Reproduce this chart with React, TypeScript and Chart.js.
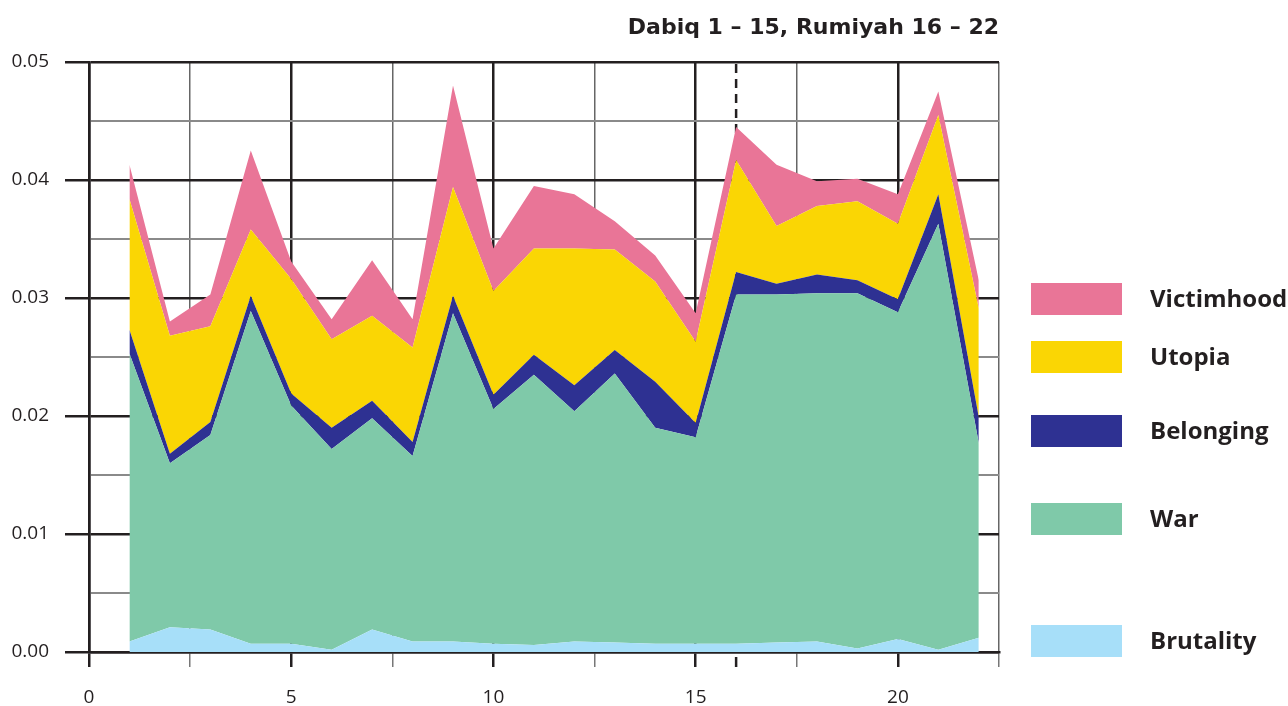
import React, { useEffect, useRef } from 'react';
import { Chart, registerables } from 'chart.js';

Chart.register(...registerables);

const issues = [1, 2, 3, 4, 5, 6, 7, 8, 9, 10, 11, 12, 13, 14, 15, 16, 17, 18, 19, 20, 21, 22];
const brutality = [0.0009, 0.0021, 0.0019, 0.0007, 0.0007, 0.0002, 0.0019, 0.0009, 0.0009, 0.0007, 0.0006, 0.0009, 0.0008, 0.0007, 0.0007, 0.0007, 0.0008, 0.0009, 0.0003, 0.0011, 0.0002, 0.0012];
const war = [0.0244, 0.0139, 0.0165, 0.0282, 0.0202, 0.0170, 0.0179, 0.0157, 0.0278, 0.0199, 0.0229, 0.0195, 0.0228, 0.0183, 0.0175, 0.0296, 0.0295, 0.0295, 0.0301, 0.0277, 0.0361, 0.0165];
const belonging = [0.0020, 0.0008, 0.0011, 0.0013, 0.0010, 0.0018, 0.0015, 0.0012, 0.0015, 0.0012, 0.0017, 0.0022, 0.0020, 0.0039, 0.0012, 0.0019, 0.0009, 0.0016, 0.0011, 0.0011, 0.0025, 0.0022];
const utopia = [0.0111, 0.0100, 0.0081, 0.0056, 0.0097, 0.0075, 0.0072, 0.0080, 0.0092, 0.0088, 0.0090, 0.0116, 0.0085, 0.0085, 0.0069, 0.0095, 0.0049, 0.0058, 0.0067, 0.0064, 0.0067, 0.0092];
const victimhood = [0.0029, 0.0012, 0.0027, 0.0067, 0.0015, 0.0017, 0.0047, 0.0024, 0.0086, 0.0036, 0.0053, 0.0046, 0.0024, 0.0022, 0.0024, 0.0028, 0.0052, 0.0021, 0.0019, 0.0025, 0.0020, 0.0024];

const seriesNames = ['Brutality', 'War', 'Belonging', 'Utopia', 'Victimhood'];
const seriesValues = [brutality, war, belonging, utopia, victimhood];
const seriesColors = ['#a7dff9', '#7fc9a9', '#2e3192', '#fad604', '#e97597'];

const titleText = 'Dabiq 1 – 15, Rumiyah 16 – 22';
const dividerIssue = 16;
const xMin = 0;
const xMax = 22.5;
const xStep = 2.5;
const yMin = 0;
const yMax = 0.05;
const yStep = 0.005;

const INK = '#231f20';

const legendOrder = ['Victimhood', 'Utopia', 'Belonging', 'War', 'Brutality'];
const legendTops = [283, 341, 415, 503, 625];

const overlayPlugin = {
  id: 'overlay',
  beforeDatasetsDraw(chart: any) {
    const { ctx, chartArea, scales } = chart;
    const px = scales.x.getPixelForValue(dividerIssue);
    ctx.save();
    ctx.strokeStyle = INK;
    ctx.lineWidth = 2.5;
    ctx.setLineDash([9, 6]);
    ctx.beginPath();
    ctx.moveTo(px, chartArea.top + 2);
    ctx.lineTo(px, chartArea.bottom);
    ctx.stroke();
    ctx.restore();
  },
  afterDraw(chart: any) {
    const { ctx, chartArea, scales } = chart;
    ctx.save();
    const px = scales.x.getPixelForValue(dividerIssue);
    ctx.strokeStyle = INK;
    ctx.lineWidth = 2.5;
    ctx.beginPath();
    ctx.moveTo(px, chartArea.bottom + 5);
    ctx.lineTo(px, chartArea.bottom + 15);
    ctx.stroke();

    ctx.fillStyle = INK;
    ctx.font = 'bold 22px "DejaVu Sans"';
    ctx.textAlign = 'right';
    ctx.textBaseline = 'middle';
    ctx.fillText(titleText, chartArea.right, 28);

    ctx.textAlign = 'left';
    ctx.font = 'bold 24px "Open Sans"';
    legendOrder.forEach((name, i) => {
      const idx = seriesNames.indexOf(name);
      const top = legendTops[i];
      ctx.fillStyle = seriesColors[idx];
      ctx.fillRect(1031, top, 91, 32);
      ctx.fillStyle = INK;
      ctx.fillText(name, 1150, top + 17);
    });
    ctx.restore();
  },
};

function isMultiple(v: number, step: number) {
  const r = v / step;
  return Math.abs(r - Math.round(r)) < 1e-6;
}

export default function App() {
  const canvasRef = useRef<HTMLCanvasElement | null>(null);

  useEffect(() => {
    document.body.style.margin = '0';
    const canvas = canvasRef.current;
    if (!canvas) return;

    const datasets = seriesNames.map((name, i) => ({
      label: name,
      data: issues.map((x, j) => ({ x, y: seriesValues[i][j] })),
      backgroundColor: seriesColors[i],
      borderColor: seriesColors[i],
      borderWidth: 0,
      pointRadius: 0,
      tension: 0,
      fill: i === 0 ? 'origin' : '-1',
    }));

    const chart = new Chart(canvas, {
      type: 'line',
      data: { datasets },
      plugins: [overlayPlugin],
      options: {
        animation: false,
        responsive: false,
        maintainAspectRatio: false,
        layout: { padding: { left: 0, top: 62, right: 1288 - 999, bottom: 0 } },
        plugins: {
          legend: { display: false },
          tooltip: { enabled: false },
          title: { display: false },
        },
        scales: {
          x: {
            type: 'linear',
            min: xMin,
            max: xMax,
            afterFit(scale: any) {
              scale.height = 706 - 652;
            },
            ticks: {
              stepSize: xStep,
              autoSkip: false,
              maxRotation: 0,
              padding: 19,
              color: INK,
              font: { family: 'Open Sans', size: 19 },
              callback: (v: any) => (isMultiple(Number(v), 5) ? String(v) : ''),
            },
            grid: {
              drawOnChartArea: true,
              drawTicks: true,
              tickLength: 15,
              color: (c: any) => {
                const v = c.tick ? c.tick.value : 0;
                return isMultiple(v, 5) ? INK : '#666666';
              },
              tickColor: (c: any) => {
                const v = c.tick ? c.tick.value : 0;
                return isMultiple(v, 5) ? INK : '#777777';
              },
              lineWidth: (c: any) => {
                const v = c.tick ? c.tick.value : 0;
                return isMultiple(v, 5) ? 2.5 : 1.5;
              },
            },
            border: { display: true, color: INK, width: 2.5 },
          },
          y: {
            type: 'linear',
            min: yMin,
            max: yMax,
            stacked: true,
            afterFit(scale: any) {
              scale.width = 89;
            },
            ticks: {
              stepSize: yStep,
              autoSkip: false,
              padding: 16,
              color: INK,
              font: { family: 'Open Sans', size: 19 },
              callback: (v: any) => (isMultiple(Number(v), 0.01) ? Number(v).toFixed(2) : ''),
            },
            grid: {
              tickLength: 24,
              color: (c: any) => {
                const v = c.tick ? c.tick.value : 0;
                return isMultiple(v, 0.01) ? INK : '#8a8a8a';
              },
              tickColor: (c: any) => {
                const v = c.tick ? c.tick.value : 0;
                return isMultiple(v, 0.01) ? INK : 'rgba(0,0,0,0)';
              },
              lineWidth: (c: any) => {
                const v = c.tick ? c.tick.value : 0;
                return isMultiple(v, 0.01) ? 2.5 : 2;
              },
            },
            border: { display: true, color: INK, width: 2.5 },
          },
        },
      },
    });

    return () => chart.destroy();
  }, []);

  return (
    <div style={{ position: 'absolute', left: 0, top: 0, width: 1288, height: 706, background: '#fff' }}>
      <canvas ref={canvasRef} width={1288} height={706} />
    </div>
  );
}
